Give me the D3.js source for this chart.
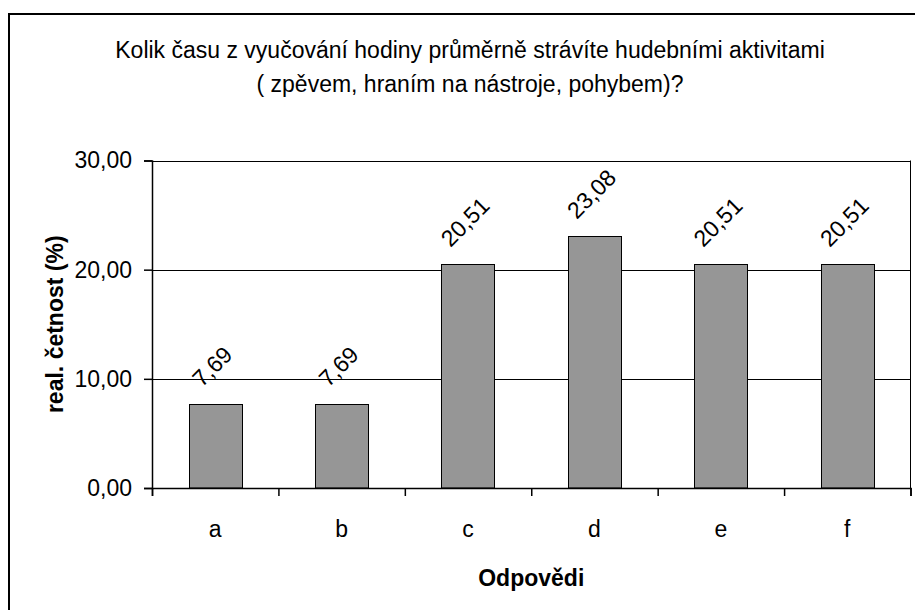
<!DOCTYPE html>
<html>
<head>
<meta charset="utf-8">
<script src="https://cdn.jsdelivr.net/npm/d3@7"></script>
<style>
    body { margin: 0; background: #ffffff; }
    text { font-family: Arial, "Liberation Sans", sans-serif; fill: #000; }
</style>
</head>
<body>
<svg id="chart"></svg>
<script>
const width = 915, height = 610
const margin = { top: 160.5, bottom: 122, left: 152, right: 4.5 }
const fontSize = 23

// data
const categories = ["a", "b", "c", "d", "e", "f"]
const values = [7.69, 7.69, 20.51, 23.08, 20.51, 20.51]
const yTicks = [0, 10, 20, 30]
const titleLines = [
    "Kolik času z vyučování hodiny průměrně strávíte hudebními aktivitami",
    "( zpěvem, hraním na nástroje, pohybem)?"
]
const xTitle = "Odpovědi"
const yTitle = "real. četnost (%)"

const fmt = v => d3.format(".2f")(v).replace(".", ",")

const svg = d3.select("svg#chart")
    .attr("width", width)
    .attr("height", height)
    .attr("viewBox", [0, 0, width, height])

// outer frame of the chart (runs off the right and bottom edge)
svg.append("rect")
    .attr("x", 9).attr("y", 14)
    .attr("width", 1000).attr("height", 1000)
    .attr("fill", "none")
    .attr("stroke", "#000")
    .attr("stroke-width", 2)

const xScale = d3.scaleBand()
    .domain(categories)
    .range([margin.left, width - margin.right])

// boundaries between categories, for the tick marks
const edgeScale = d3.scaleLinear()
    .domain([0, categories.length])
    .range([margin.left, width - margin.right])

const yScale = d3.scaleLinear()
    .domain([0, 30])
    .range([height - margin.bottom, margin.top])

// gridlines
svg.append("g")
    .selectAll("line")
    .data(yTicks.slice(1))
    .join("line")
    .attr("x1", margin.left)
    .attr("x2", width - margin.right)
    .attr("y1", d => Math.round(yScale(d)) + 0.5)
    .attr("y2", d => Math.round(yScale(d)) + 0.5)
    .attr("stroke", "#000")

// right border of plot area
svg.append("line")
    .attr("x1", width - margin.right).attr("x2", width - margin.right)
    .attr("y1", yScale(30)).attr("y2", yScale(0))
    .attr("stroke", "#000")

// bars
const barW = xScale.bandwidth() * 0.42
svg.append("g")
    .selectAll("rect")
    .data(values)
    .join("rect")
    .attr("x", (d, i) => Math.round(xScale(categories[i]) + (xScale.bandwidth() - barW) / 2) + 0.5)
    .attr("y", d => Math.round(yScale(d)) + 0.5)
    .attr("width", Math.round(barW))
    .attr("height", d => yScale(0) - Math.round(yScale(d)) - 0.5)
    .attr("fill", "#969696")
    .attr("stroke", "#000")
    .attr("stroke-width", 1)

// y axis
const yAxis = svg.append("g")
    .attr("transform", `translate(${margin.left}, 0)`)
    .call(d3.axisLeft(yScale).tickValues(yTicks).tickSize(8).tickPadding(12).tickFormat(fmt))
yAxis.select(".domain").attr("stroke", "#000").attr("stroke-width", 1.5)
yAxis.selectAll(".tick line").attr("stroke", "#000").attr("stroke-width", 1.5)
yAxis.selectAll(".tick text").attr("font-size", fontSize).attr("font-family", "Arial, 'Liberation Sans', sans-serif")

// x axis: ticks on category edges
const xAxis = svg.append("g")
    .attr("transform", `translate(0, ${yScale(0)})`)
    .call(d3.axisBottom(edgeScale).ticks(categories.length).tickSize(8).tickFormat(""))
xAxis.select(".domain").attr("stroke", "#000").attr("stroke-width", 1.5)
xAxis.selectAll(".tick line").attr("stroke", "#000").attr("stroke-width", 1.5)

// category labels
svg.append("g")
    .selectAll("text")
    .data(categories)
    .join("text")
    .attr("x", d => xScale(d) + xScale.bandwidth() / 2)
    .attr("y", 537)
    .attr("text-anchor", "middle")
    .attr("font-size", fontSize)
    .text(d => d)

// value labels, rotated
const labels = svg.append("g")
    .selectAll("text")
    .data(values)
    .join("text")
    .attr("text-anchor", "middle")
    .attr("dy", "0.35em")
    .attr("font-size", fontSize)
    .text(d => fmt(d))
labels.each(function (d, i) {
    const L = this.getComputedTextLength()
    const cx = xScale(categories[i]) + xScale.bandwidth() / 2 - 3
    const cy = yScale(d) - 16 - (L + fontSize * 0.72) / (2 * Math.SQRT2)
    d3.select(this).attr("transform", `translate(${cx}, ${cy}) rotate(-45)`)
})

// title
svg.append("g")
    .selectAll("text")
    .data(titleLines)
    .join("text")
    .attr("x", 470)
    .attr("y", (d, i) => 58 + i * 34)
    .attr("text-anchor", "middle")
    .attr("font-size", fontSize)
    .text(d => d)

// axis titles
svg.append("text")
    .attr("x", (margin.left + width - margin.right) / 2)
    .attr("y", 586)
    .attr("text-anchor", "middle")
    .attr("font-size", fontSize)
    .attr("font-weight", "bold")
    .text(xTitle)

svg.append("text")
    .attr("transform", `translate(55, ${(yScale(0) + yScale(30)) / 2}) rotate(-90)`)
    .attr("text-anchor", "middle")
    .attr("dy", "0.35em")
    .attr("font-size", fontSize)
    .attr("font-weight", "bold")
    .text(yTitle)
</script>
</body>
</html>
